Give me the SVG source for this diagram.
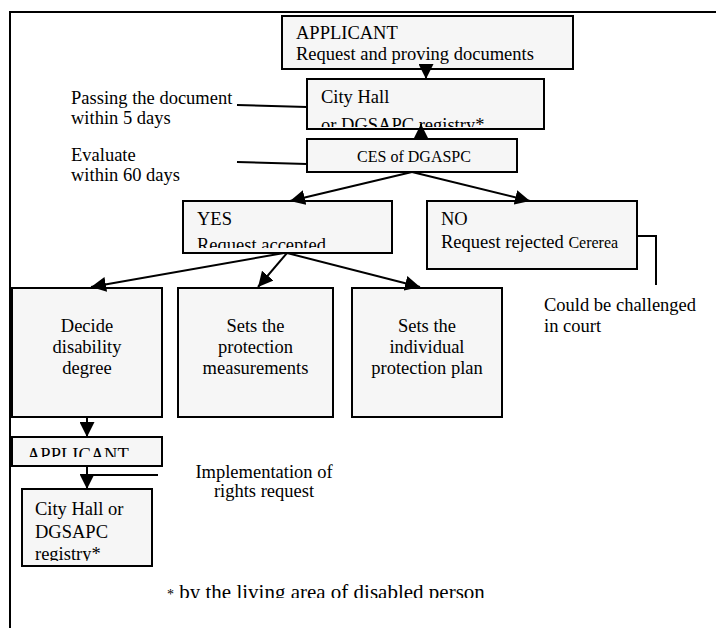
<svg xmlns="http://www.w3.org/2000/svg" width="716" height="628" viewBox="0 0 716 628">
<style>
.box{fill:#f6f6f6;stroke:#000;stroke-width:2}
.t{font-family:"Liberation Serif","Times New Roman",serif;font-size:18.5px;fill:#000}
.s{font-size:16px}
.c{text-anchor:middle}
.ln{fill:none;stroke:#000;stroke-width:2}
.ar{fill:none;stroke:#000;stroke-width:2;marker-end:url(#ah)}
</style>
<defs>
<marker id="ah" markerUnits="userSpaceOnUse" markerWidth="15" markerHeight="15" refX="15" refY="7.5" orient="auto" viewBox="0 0 15 15">
<path d="M0,0 L15,7.5 L0,15 z" fill="#000"/>
</marker>
<clipPath id="c1"><rect x="300" y="80" width="240" height="47"/></clipPath>
<clipPath id="c2"><rect x="180" y="200" width="210" height="48"/></clipPath>
<clipPath id="c3"><rect x="10" y="438" width="150" height="19"/></clipPath>
<clipPath id="c4"><rect x="20" y="490" width="130" height="71"/></clipPath>
<clipPath id="c5"><rect x="150" y="570" width="400" height="28"/></clipPath>
</defs>

<g id="frame">
<path class="ln" d="M10,628 L10,12 L716,12"/>
</g>

<g id="applicant">
<rect class="box" x="282" y="16" width="291" height="53"/>
<text class="t" x="296" y="39">APPLICANT</text>
<text class="t" x="296" y="60">Request and proving documents</text>
</g>

<g id="cityhall">
<rect class="box" x="307" y="79" width="237" height="50"/>
<text class="t" x="321" y="103">City Hall</text>
<text class="t" x="321" y="131" clip-path="url(#c1)">or DGSAPC registry*</text>
</g>

<g id="ces">
<rect class="box" x="307" y="139" width="210" height="33"/>
<text class="t s c" x="414" y="162">CES of DGASPC</text>
</g>

<g id="yes">
<rect class="box" x="183" y="201" width="209" height="52"/>
<text class="t" x="197" y="225">YES</text>
<text class="t" x="197" y="251" clip-path="url(#c2)">Request accepted</text>
</g>

<g id="no">
<rect class="box" x="427" y="201" width="210" height="68"/>
<text class="t" x="441" y="225">NO</text>
<text class="t" x="441" y="248">Request rejected <tspan class="s">Cererea</tspan></text>
</g>

<g id="decide">
<rect class="box" x="12" y="288" width="150" height="129"/>
<text class="t c" x="87" y="332">Decide</text>
<text class="t c" x="87" y="353">disability</text>
<text class="t c" x="87" y="374">degree</text>
</g>

<g id="measures">
<rect class="box" x="178" y="288" width="155" height="129"/>
<text class="t c" x="255.5" y="332">Sets the</text>
<text class="t c" x="255.5" y="353">protection</text>
<text class="t c" x="255.5" y="374">measurements</text>
</g>

<g id="plan">
<rect class="box" x="352" y="288" width="150" height="129"/>
<text class="t c" x="427" y="332">Sets the</text>
<text class="t c" x="427" y="353">individual</text>
<text class="t c" x="427" y="374">protection plan</text>
</g>

<g id="applicant2">
<rect class="box" x="12" y="437" width="150" height="29"/>
<text class="t" x="27" y="461" clip-path="url(#c3)">APPLICANT</text>
</g>

<g id="cityhall2">
<rect class="box" x="22" y="489" width="130" height="77"/>
<text class="t" x="35" y="515">City Hall or</text>
<text class="t" x="35" y="538">DGSAPC</text>
<text class="t" x="35" y="560" clip-path="url(#c4)">registry*</text>
</g>

<g id="labels">
<text class="t" x="71" y="104">Passing the document</text>
<text class="t" x="71" y="124">within 5 days</text>
<text class="t" x="71" y="161">Evaluate</text>
<text class="t" x="71" y="181">within 60 days</text>
<text class="t" x="544" y="311">Could be challenged</text>
<text class="t" x="544" y="332">in court</text>
<text class="t c" x="264" y="478">Implementation of</text>
<text class="t c" x="264" y="497">rights request</text>
<text class="t" x="167" y="599" clip-path="url(#c5)" style="font-size:21px"><tspan style="font-size:14px">*</tspan> by the living area of disabled person</text>
</g>

<g id="connectors">
<line class="ar" x1="426" y1="64" x2="426" y2="79"/>
<line class="ar" x1="421" y1="139" x2="421" y2="124"/>
<line class="ln" x1="237" y1="105" x2="307" y2="107"/>
<line class="ln" x1="237" y1="162" x2="307" y2="164"/>
<line class="ar" x1="412" y1="172" x2="290" y2="201"/>
<line class="ar" x1="412" y1="172" x2="530" y2="201"/>
<polyline class="ln" points="637,236 656,236 656,285"/>
<line class="ar" x1="284" y1="253" x2="91" y2="287"/>
<line class="ar" x1="287" y1="253" x2="258" y2="287"/>
<line class="ar" x1="287" y1="253" x2="420" y2="287"/>
<line class="ar" x1="87" y1="417" x2="87" y2="437"/>
<line class="ar" x1="87" y1="466" x2="87" y2="489"/>
<line class="ln" x1="87" y1="475" x2="158" y2="475"/>
</g>
</svg>
